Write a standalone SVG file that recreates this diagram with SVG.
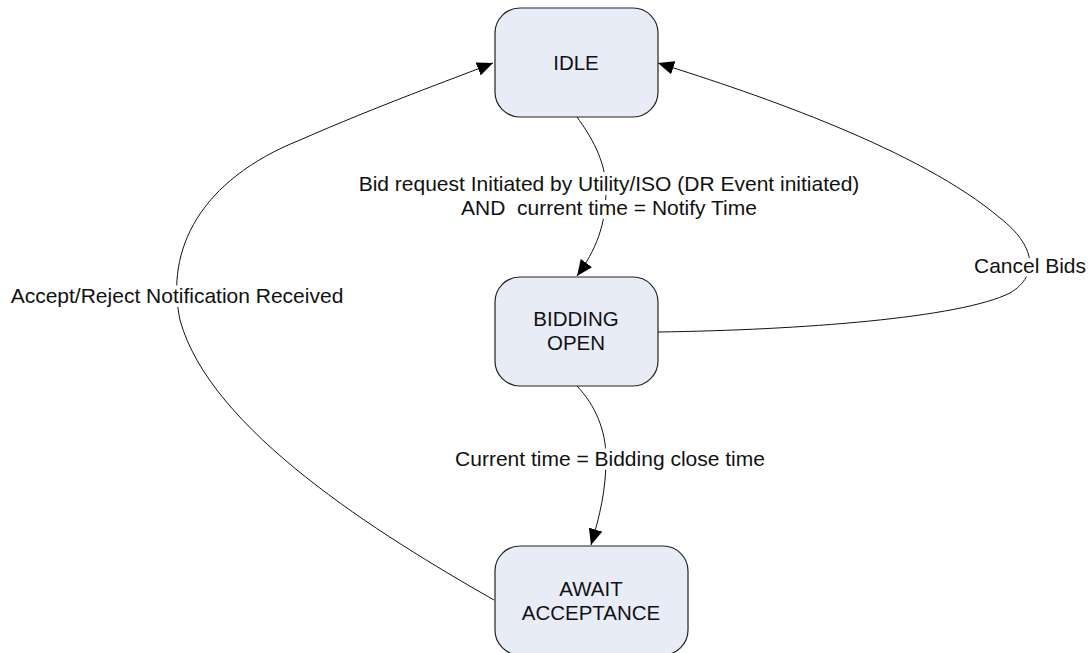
<svg xmlns="http://www.w3.org/2000/svg" width="1092" height="653" viewBox="0 0 1092 653">
<style>
.node rect{fill:#e8ecf7;stroke:#222;stroke-width:1.2}
.node text{font-family:"Liberation Sans",Arial,sans-serif;font-size:20.5px;fill:#111;text-anchor:middle;dominant-baseline:central}
.edge{fill:none;stroke:#111;stroke-width:1}
.lbl{font-family:"Liberation Sans",Arial,sans-serif;font-size:21px;fill:#111;text-anchor:middle;dominant-baseline:central;stroke:#fff;stroke-width:8;paint-order:stroke;stroke-linejoin:round}
</style>
<defs>
<marker id="arr" markerUnits="userSpaceOnUse" markerWidth="18" markerHeight="14" refX="16" refY="7" orient="auto">
<path d="M0,0 L16,7 L0,14 Z" fill="#000"/>
</marker>
</defs>
<g id="connectors">
<path class="edge" d="M577,117 C590,135 606,160 606,190 C606,225 596,250 577,276" marker-end="url(#arr)"/>
<path class="edge" d="M577,386 C595,405 606,430 606,458 C606,490 600,515 591,545" marker-end="url(#arr)"/>
<path class="edge" d="M658,332 C800,330 960,318 1010,293 C1040,275 1035,245 1000,218 C920,150 760,95 658,63" marker-end="url(#arr)"/>
<path class="edge" d="M494,600 C380,535 210,430 180,320 C165,250 200,180 300,140 C380,105 450,80 493,63" marker-end="url(#arr)"/>
<text class="lbl" x="609" y="183">Bid request Initiated by Utility/ISO (DR Event initiated)</text>
<text class="lbl" x="609" y="207" xml:space="preserve">AND  current time = Notify Time</text>
<text class="lbl" x="610" y="458">Current time = Bidding close time</text>
<text class="lbl" x="1030" y="265">Cancel Bids</text>
<text class="lbl" x="177" y="295">Accept/Reject Notification Received</text>
</g>
<g id="idle" class="node">
<rect x="495" y="8" width="163" height="109" rx="25"/>
<text x="576" y="62">IDLE</text>
</g>
<g id="bidding-open" class="node">
<rect x="495" y="277" width="163" height="109" rx="25"/>
<text x="576" y="318">BIDDING</text>
<text x="576" y="342">OPEN</text>
</g>
<g id="await-acceptance" class="node">
<rect x="495" y="546" width="193" height="109" rx="25"/>
<text x="591" y="588">AWAIT</text>
<text x="591" y="612">ACCEPTANCE</text>
</g>
</svg>
